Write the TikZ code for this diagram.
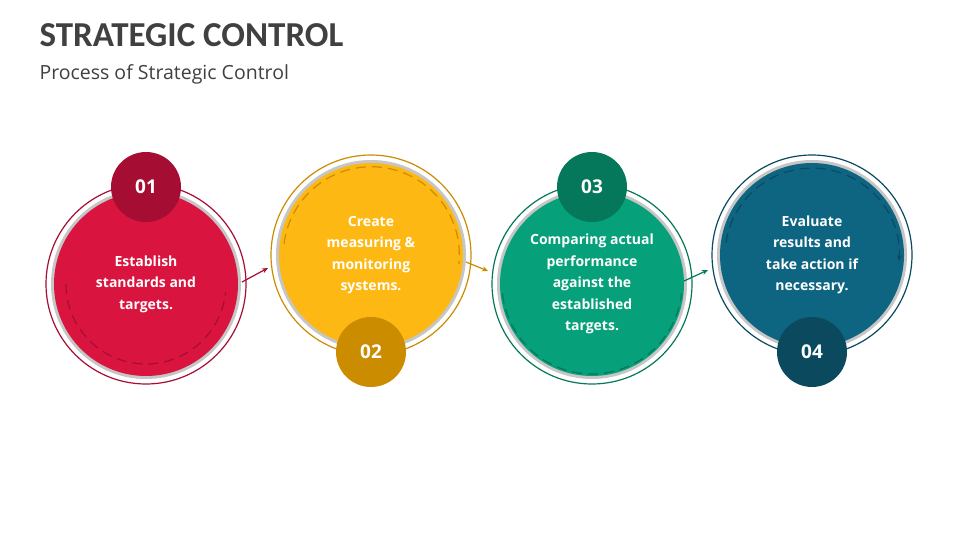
\documentclass[tikz,border=0pt]{standalone}
\usepackage{fontspec}
\setmainfont{Open Sans}
\newfontfamily\titlefont{Carlito}
\usetikzlibrary{arrows.meta}
\definecolor{cA}{HTML}{D8143F}\definecolor{dA}{HTML}{A50E32}
\definecolor{cB}{HTML}{FDB813}\definecolor{dB}{HTML}{CC8C00}
\definecolor{cC}{HTML}{06A07A}\definecolor{dC}{HTML}{05775A}
\definecolor{cD}{HTML}{0E6582}\definecolor{dD}{HTML}{0B4A5E}
\definecolor{tgray}{HTML}{404040}
\tikzset{
 body/.style={circle,minimum size=184pt,inner sep=0pt,align=center,text=white,font=\bfseries\fontsize{14}{21.5}\selectfont},
 badge/.style={circle,minimum size=70pt,inner sep=0pt,text=white,font=\bfseries\fontsize{19}{20}\selectfont},
 dashline/.style={dash pattern=on 10pt off 6pt,line width=1.2pt},
 arr/.style={-{Stealth[length=6pt,width=5pt]},line width=1.2pt}
}
\begin{document}
\begin{tikzpicture}[x=1pt,y=-1pt]
\useasboundingbox (0,0) rectangle (960,540);
\node[anchor=west,text=tgray,font=\titlefont\bfseries\fontsize{35}{36}\selectfont] (title) at (36,35) {STRATEGIC CONTROL};
\node[anchor=west,text=tgray,font=\fontsize{19.5}{20}\selectfont] (sub) at (36,74) {Process of Strategic Control};
\foreach \n/\x/\y/\c/\d/\t in {
 1/146/284/cA/dA/{Establish\\standards and\\targets.},
 2/371/255/cB/dB/{Create\\measuring \&\\monitoring\\systems.},
 3/592/284/cC/dC/{Comparing actual\\performance\\against the\\established\\targets.},
 4/812/255/cD/dD/{Evaluate\\results and\\take action if\\necessary.}}{
 \draw[\d,line width=1.2pt,fill=white] (\x,\y) circle[radius=100];
 \fill[gray!45] (\x,\y) circle[radius=95];
 \node[body,fill=\c] (c\n) at (\x,\y) {\t};
}
\node[badge,fill=dA] (b1) at (146,187) {01};
\node[badge,fill=dB] (b2) at (371,352) {02};
\node[badge,fill=dC] (b3) at (592,187) {03};
\node[badge,fill=dD] (b4) at (812,352) {04};
% dashed arcs
\draw[dashline,dA] (c1.center) ++(-80,0) arc[start angle=180,end angle=354,radius=80,y radius=-80];
\draw[dashline,dB] (c2.center) ++(-87,-11) arc[start angle=173,end angle=-6,radius=88,y radius=-88];
\draw[dashline,dC] (c3.center) ++(-89.5,9.4) arc[start angle=186,end angle=354,radius=90,y radius=-90];
\draw[dashline,dD,-{Stealth[length=6pt,width=5pt]}] (c4.center) ++(-86,-12) arc[start angle=172,end angle=-4,radius=87,y radius=-87];
\coordinate (e1) at (242,282); \coordinate (s2) at (268,268);
\coordinate (e2) at (466,262); \coordinate (s3) at (488,271);
\coordinate (e3) at (684,281); \coordinate (s4) at (708,270);
\draw[arr,dA] (e1) -- (s2);
\draw[arr,dB] (e2) -- (s3);
\draw[arr,dC] (e3) -- (s4);
\end{tikzpicture}
\end{document}
